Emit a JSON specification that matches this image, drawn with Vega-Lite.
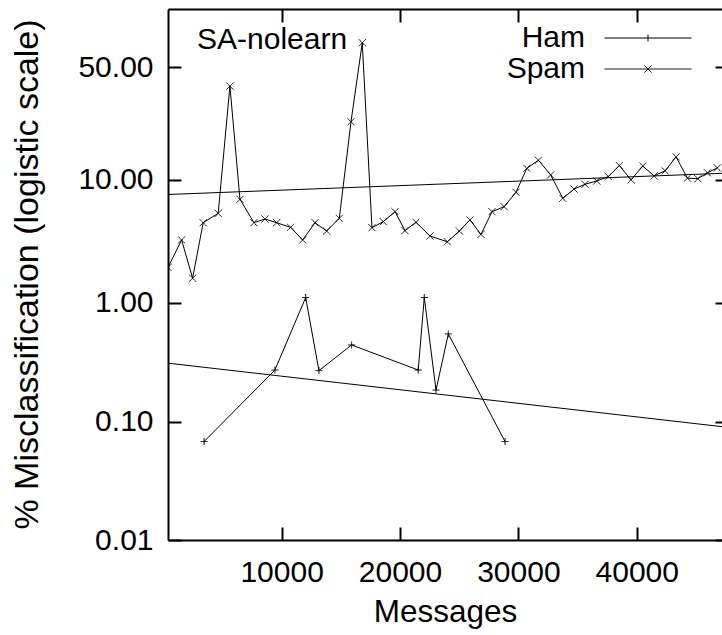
{
  "$schema": "https://vega.github.io/schema/vega-lite/v6.json",
  "width": 554,
  "height": 531,
  "autosize": {"type": "none"},
  "padding": {"left": 168, "top": 9, "right": 0, "bottom": 95},
  "background": "white",
  "config": {
    "view": {"stroke": null},
    "font": "Liberation Sans",
    "axis": {
      "labelFont": "Liberation Sans", "labelFontSize": 30, "labelColor": "black",
      "titleFont": "Liberation Sans", "titleFontSize": 30, "titleFontWeight": "normal", "titleColor": "black",
      "domainColor": "black", "tickColor": "black", "grid": false, "domainWidth": 2, "tickWidth": 2
    },
    "legend": {
      "orient": "none", "title": null,
      "labelFont": "Liberation Sans", "labelFontSize": 30, "labelColor": "black",
      "labelAlign": "right", "labelOffset": -78, "labelBaseline": "middle",
      "rowPadding": 1, "padding": 0,
      "symbolStrokeColor": "black", "symbolFillColor": "transparent", "symbolStrokeWidth": 1, "symbolSize": 100
    }
  },
  "title": {
    "text": "SA-nolearn", "orient": "top", "anchor": "start", "frame": "group",
    "offset": -71, "dx": 29, "fontSize": 30, "font": "Liberation Sans", "fontWeight": "normal",
    "color": "black", "baseline": "alphabetic"
  },
  "datasets": {
    "series": [
      {"series": "Spam", "messages": 400, "pct": 1.98},
      {"series": "Spam", "messages": 1550, "pct": 3.33},
      {"series": "Spam", "messages": 2480, "pct": 1.61},
      {"series": "Spam", "messages": 3370, "pct": 4.60},
      {"series": "Spam", "messages": 4640, "pct": 5.47},
      {"series": "Spam", "messages": 5630, "pct": 40.8},
      {"series": "Spam", "messages": 6480, "pct": 7.07},
      {"series": "Spam", "messages": 7660, "pct": 4.60},
      {"series": "Spam", "messages": 8590, "pct": 4.93},
      {"series": "Spam", "messages": 9580, "pct": 4.60},
      {"series": "Spam", "messages": 10760, "pct": 4.22},
      {"series": "Spam", "messages": 11780, "pct": 3.33},
      {"series": "Spam", "messages": 12820, "pct": 4.60},
      {"series": "Spam", "messages": 13800, "pct": 3.94},
      {"series": "Spam", "messages": 14870, "pct": 4.99},
      {"series": "Spam", "messages": 15860, "pct": 25.6},
      {"series": "Spam", "messages": 16810, "pct": 61.6},
      {"series": "Spam", "messages": 17630, "pct": 4.19},
      {"series": "Spam", "messages": 18590, "pct": 4.69},
      {"series": "Spam", "messages": 19580, "pct": 5.64},
      {"series": "Spam", "messages": 20420, "pct": 3.97},
      {"series": "Spam", "messages": 21350, "pct": 4.64},
      {"series": "Spam", "messages": 22530, "pct": 3.59},
      {"series": "Spam", "messages": 24000, "pct": 3.22},
      {"series": "Spam", "messages": 25010, "pct": 3.94},
      {"series": "Spam", "messages": 25910, "pct": 4.84},
      {"series": "Spam", "messages": 26840, "pct": 3.70},
      {"series": "Spam", "messages": 27770, "pct": 5.64},
      {"series": "Spam", "messages": 28790, "pct": 6.18},
      {"series": "Spam", "messages": 29800, "pct": 8.02},
      {"series": "Spam", "messages": 30710, "pct": 12.2},
      {"series": "Spam", "messages": 31690, "pct": 14.0},
      {"series": "Spam", "messages": 32730, "pct": 10.9},
      {"series": "Spam", "messages": 33750, "pct": 7.2},
      {"series": "Spam", "messages": 34700, "pct": 8.5},
      {"series": "Spam", "messages": 35630, "pct": 9.25},
      {"series": "Spam", "messages": 36620, "pct": 9.8},
      {"series": "Spam", "messages": 37600, "pct": 10.6},
      {"series": "Spam", "messages": 38530, "pct": 12.8},
      {"series": "Spam", "messages": 39520, "pct": 10.0},
      {"series": "Spam", "messages": 40510, "pct": 12.7},
      {"series": "Spam", "messages": 41460, "pct": 10.7},
      {"series": "Spam", "messages": 42390, "pct": 11.7},
      {"series": "Spam", "messages": 43320, "pct": 14.8},
      {"series": "Spam", "messages": 44280, "pct": 10.3},
      {"series": "Spam", "messages": 45160, "pct": 10.2},
      {"series": "Spam", "messages": 45970, "pct": 11.3},
      {"series": "Spam", "messages": 46810, "pct": 12.3},
      {"series": "Ham", "messages": 3450, "pct": 0.068},
      {"series": "Ham", "messages": 9430, "pct": 0.273},
      {"series": "Ham", "messages": 12030, "pct": 1.11},
      {"series": "Ham", "messages": 13150, "pct": 0.27},
      {"series": "Ham", "messages": 15910, "pct": 0.444},
      {"series": "Ham", "messages": 21540, "pct": 0.273},
      {"series": "Ham", "messages": 22050, "pct": 1.11},
      {"series": "Ham", "messages": 23040, "pct": 0.185},
      {"series": "Ham", "messages": 24080, "pct": 0.55},
      {"series": "Ham", "messages": 28870, "pct": 0.068}
    ],
    "trend": [
      {"series": "Spam", "messages": 400, "pct": 7.71},
      {"series": "Spam", "messages": 47200, "pct": 11.2},
      {"series": "Ham", "messages": 400, "pct": 0.312},
      {"series": "Ham", "messages": 47200, "pct": 0.0908}
    ]
  },
  "layer": [
    {
      "data": {"name": "trend"},
      "transform": [{"calculate": "log((datum.pct/100)/(1-datum.pct/100))", "as": "logit"}],
      "mark": {"type": "line", "color": "black", "strokeWidth": 1, "clip": true},
      "encoding": {
        "x": {"field": "messages", "type": "quantitative",
          "scale": {"domain": [400, 47200], "nice": false, "zero": false},
          "axis": {"orient": "bottom", "values": [10000, 20000, 30000, 40000], "format": "d",
            "tickSize": -13, "labelPadding": 30, "title": "Messages", "titleFontSize": 31.5,
            "titleBaseline": "alphabetic", "titleY": 81}},
        "y": {"field": "logit", "type": "quantitative",
          "scale": {"domain": [-9.21024, 1.1294], "nice": false, "zero": false},
          "axis": {"orient": "left", "values": [-9.21024, -6.90675, -4.59512, -2.19722, 0],
            "labelExpr": "format(100/(1+exp(-datum.value)), '.2f')",
            "tickSize": -13, "labelPadding": 28,
            "title": "% Misclassification (logistic scale)", "titleFontSize": 34,
            "titleAngle": 270, "titleBaseline": "alphabetic", "titleAlign": "center",
            "titleX": -131, "titleY": 265}},
        "detail": {"field": "series"}
      }
    },
    {
      "data": {"name": "series"},
      "transform": [{"calculate": "log((datum.pct/100)/(1-datum.pct/100))", "as": "logit"}],
      "mark": {"type": "line", "color": "black", "strokeWidth": 1, "clip": true},
      "encoding": {
        "x": {"field": "messages", "type": "quantitative",
          "axis": {"orient": "top", "values": [10000, 20000, 30000, 40000], "labels": false,
            "tickSize": -13, "title": null, "domain": true}},
        "y": {"field": "logit", "type": "quantitative",
          "axis": {"orient": "right", "values": [-9.21024, -6.90675, -4.59512, -2.19722, 0],
            "labels": false, "tickSize": -7, "title": null, "domain": false}},
        "detail": {"field": "series"}
      }
    },
    {
      "data": {"name": "series"},
      "transform": [{"calculate": "log((datum.pct/100)/(1-datum.pct/100))", "as": "logit"}],
      "mark": {"type": "point", "filled": false, "color": "black", "strokeWidth": 1, "size": 49, "opacity": 1, "clip": true},
      "encoding": {
        "x": {"field": "messages", "type": "quantitative", "axis": null},
        "y": {"field": "logit", "type": "quantitative", "axis": null},
        "shape": {"field": "series", "type": "nominal",
          "scale": {"domain": ["Ham", "Spam"], "range": ["M-1,0H1M0,-1V1", "M-1,-1L1,1M-1,1L1,-1"]},
          "legend": null},
        "stroke": {"field": "series", "type": "nominal",
          "scale": {"range": ["black", "black"]},
          "legend": {
            "legendX": 465, "legendY": 14, "values": ["Ham"],
            "symbolType": "M-8.7,0H8.7M0,-0.7V0.7"
          }},
        "strokeDash": {"field": "series", "type": "nominal",
          "scale": {"domain": ["Spam", "Ham"], "range": [[1, 0], [1, 0]]},
          "legend": {
            "legendX": 465, "legendY": 45, "values": ["Spam"],
            "symbolType": "M-8.7,0H8.7M-0.7,-0.7L0.7,0.7M-0.7,0.7L0.7,-0.7"
          }}
      }
    }
  ],
  "resolve": {"axis": {"x": "independent", "y": "independent"}}
}
